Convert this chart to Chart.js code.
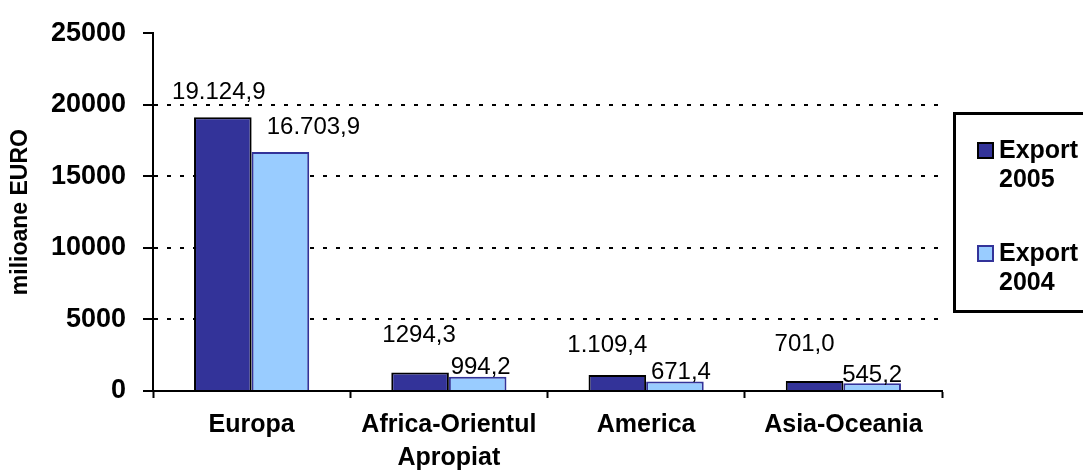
<!DOCTYPE html>
<html>
<head>
<meta charset="utf-8">
<title>Export 2004-2005</title>
<script src="https://cdn.jsdelivr.net/npm/chart.js@4.4.0/dist/chart.umd.min.js"></script>
<style>
  html, body { margin: 0; padding: 0; background: #fff; }
  #wrap { width: 1083px; height: 470px; }
</style>
</head>
<body>
<div id="wrap"><canvas id="chart" width="1083" height="470"></canvas></div>
<script>
// --- date ---
const categories = [['Europa'], ['Africa-Orientul', 'Apropiat'], ['America'], ['Asia-Oceania']];
const export2005 = [19124.9, 1294.3, 1109.4, 701.0];
const export2004 = [16703.9, 994.2, 671.4, 545.2];
const labels2005 = ['19.124,9', '1294,3', '1.109,4', '701,0'];
const labels2004 = ['16.703,9', '994,2', '671,4', '545,2'];
const yTicks = [0, 5000, 10000, 15000, 20000, 25000];

const FONT = "'Liberation Sans', Arial, sans-serif";

// etichetele valorilor, mutate manual ca in Excel (dx, dy fata de varful barei)
const labelOffsets = [
    [[-4, -25], [-1, -37], [-10, -30], [-10, -37]],
    [[33, -25], [3, -9], [6, -9], [0, -8]]
];

const valueLabels = {
    id: 'valueLabels',
    afterDatasetsDraw(chart) {
        const ctx = chart.ctx;
        ctx.save();
        ctx.font = '24px ' + FONT;
        ctx.fillStyle = '#000';
        ctx.textAlign = 'center';
        ctx.textBaseline = 'middle';
        chart.data.datasets.forEach((ds, i) => {
            chart.getDatasetMeta(i).data.forEach((bar, j) => {
                const off = labelOffsets[i][j];
                ctx.fillText(ds.valueLabels[j], bar.x + off[0], bar.y + off[1]);
            });
        });
        ctx.restore();
    }
};

// legenda in cutie, la dreapta (taiata de marginea imaginii)
const boxLegend = {
    id: 'boxLegend',
    afterDraw(chart) {
        const ctx = chart.ctx;
        const area = chart.chartArea;
        const left = area.right + 11;
        const top = 112;
        ctx.save();
        ctx.lineWidth = 3;
        ctx.strokeStyle = '#000';
        ctx.strokeRect(left + 1.5, top + 1.5, 200, 198);
        ctx.font = 'bold 25px ' + FONT;
        ctx.textBaseline = 'middle';
        chart.data.datasets.forEach((ds, i) => {
            const y0 = top + 31 + i * 103;
            ctx.fillStyle = ds.backgroundColor;
            ctx.fillRect(left + 25, y0, 15, 15);
            ctx.lineWidth = 2;
            ctx.strokeStyle = ds.borderColor;
            ctx.strokeRect(left + 25, y0, 15, 15);
            ctx.fillStyle = '#000';
            ds.label.split(' ').forEach((line, k) => {
                ctx.fillText(line, left + 46, y0 + 8 + k * 29);
            });
        });
        ctx.restore();
    }
};

new Chart(document.getElementById('chart'), {
    type: 'bar',
    data: {
        labels: categories,
        datasets: [
            {
                label: 'Export 2005',
                data: export2005,
                valueLabels: labels2005,
                backgroundColor: '#333399',
                borderColor: '#000000',
                borderWidth: 2
            },
            {
                label: 'Export 2004',
                data: export2004,
                valueLabels: labels2004,
                backgroundColor: '#99CCFF',
                borderColor: '#333399',
                borderWidth: 2
            }
        ]
    },
    options: {
        responsive: false,
        animation: false,
        devicePixelRatio: 1,
        layout: { padding: { top: 30, right: 141, bottom: 0, left: 0 } },
        datasets: { bar: { categoryPercentage: 0.584, barPercentage: 1 } },
        plugins: {
            legend: { display: false },
            tooltip: { enabled: false }
        },
        scales: {
            x: {
                afterFit: s => { s.height = 79; },
                grid: {
                    offset: true,
                    drawOnChartArea: false,
                    tickLength: 7,
                    tickWidth: 2,
                    tickColor: '#000'
                },
                border: { color: '#000', width: 2 },
                ticks: {
                    color: '#000',
                    padding: 11,
                    maxRotation: 0,
                    autoSkip: false,
                    font: { family: FONT, size: 25, weight: 'bold', lineHeight: 1.3 }
                }
            },
            y: {
                min: 0,
                max: 25000,
                afterFit: s => { s.width = 153; },
                afterBuildTicks: s => { s.ticks = yTicks.map(v => ({ value: v })); },
                grid: {
                    color: c => (c.tick && (c.tick.value === 0 || c.tick.value === 25000)) ? 'rgba(0,0,0,0)' : '#000',
                    lineWidth: 2,
                    tickLength: 10,
                    tickWidth: 2,
                    tickColor: '#000'
                },
                border: { color: '#000', width: 2, dash: [4, 9] },
                ticks: {
                    color: '#000',
                    padding: 17,
                    callback: v => String(v),
                    font: { family: FONT, size: 27, weight: 'bold' }
                },
                title: {
                    display: true,
                    text: 'milioane EURO',
                    color: '#000',
                    padding: { top: 7, bottom: 0 },
                    font: { family: FONT, size: 23, weight: 'bold' }
                }
            }
        }
    },
    plugins: [valueLabels, boxLegend]
});
</script>
</body>
</html>
